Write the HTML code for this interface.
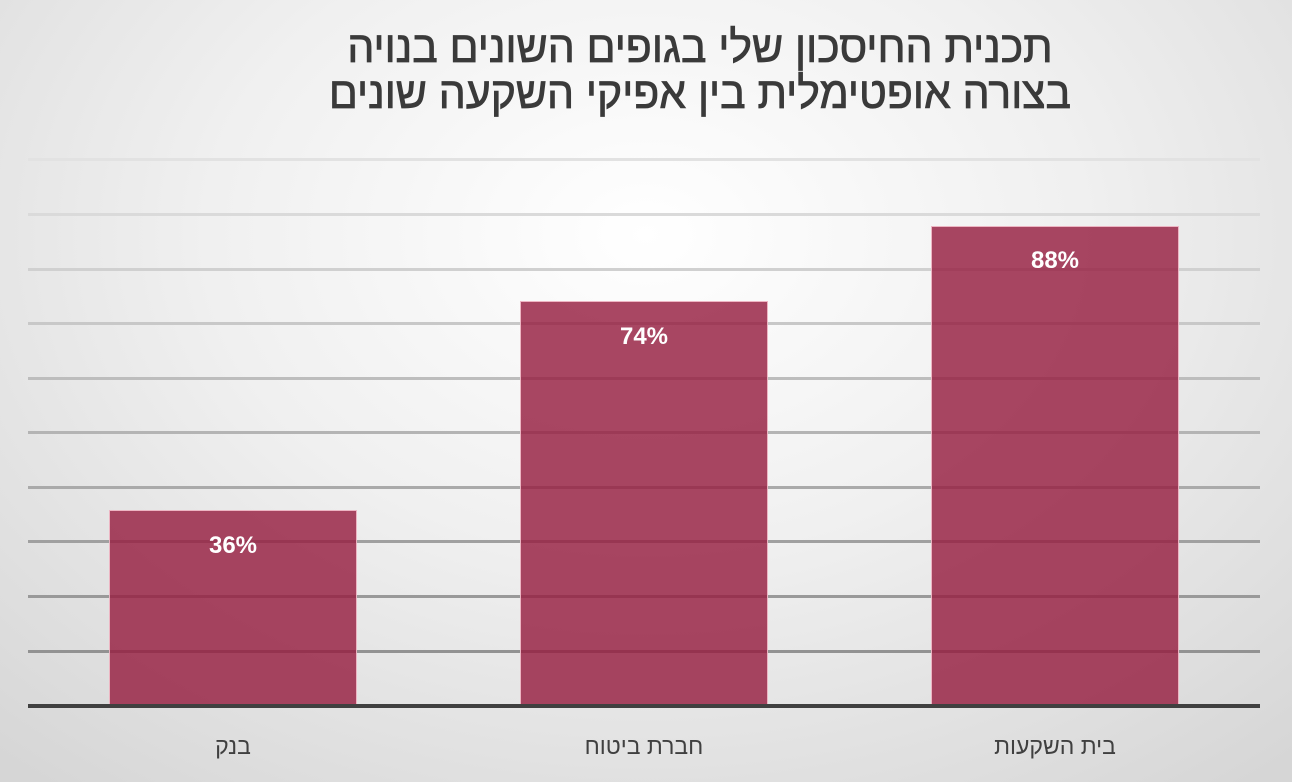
<!DOCTYPE html>
<html><head><meta charset="utf-8"><style>
html,body{margin:0;padding:0}
body{width:1292px;height:782px;overflow:hidden;position:relative;
background:radial-gradient(ellipse 75% 90% at 50% 30%,#ffffff 0%,#f0f0f0 45%,#d6d6d6 100%);
font-family:"Liberation Sans","DejaVu Sans",sans-serif}
.t{position:absolute;left:0;width:1400px;text-align:center;font-size:44px;line-height:46px;color:#3a3a3a;direction:rtl;transform:scaleX(0.97);transform-origin:700px 0;-webkit-text-stroke:0.8px #3a3a3a}
.g{position:absolute;left:28px;width:1232px;height:3px}
.bar{position:absolute;background:rgba(150,30,65,0.82);border:1px solid rgba(255,210,220,0.8);border-bottom:none;box-sizing:border-box}
.v{position:absolute;color:#fff;font-weight:bold;font-size:24px;text-align:center;width:248px}
.c{position:absolute;top:733px;font-size:23px;color:#404040;text-align:center;width:248px;direction:rtl}
</style></head><body>
<div class="t" style="top:25px">תכנית החיסכון שלי בגופים השונים בנויה</div>
<div class="t" style="top:71px">בצורה אופטימלית בין אפיקי השקעה שונים</div>
<div class="g" style="top:158px;background:#e2e2e2"></div>
<div class="g" style="top:213px;background:#dadada"></div>
<div class="g" style="top:268px;background:#d0d0d0"></div>
<div class="g" style="top:322px;background:#c8c8c8"></div>
<div class="g" style="top:377px;background:#bdbdbd"></div>
<div class="g" style="top:431px;background:#b4b4b4"></div>
<div class="g" style="top:486px;background:#aaaaaa"></div>
<div class="g" style="top:540px;background:#a0a0a0"></div>
<div class="g" style="top:595px;background:#999"></div>
<div class="g" style="top:650px;background:#929292"></div>
<div class="bar" style="left:109px;top:510px;width:248px;height:195px"></div>
<div class="bar" style="left:520px;top:301px;width:248px;height:404px"></div>
<div class="bar" style="left:931px;top:226px;width:248px;height:479px"></div>
<div class="g" style="top:704px;height:4px;background:#404040"></div>
<div class="v" style="left:109px;top:532px">36%</div>
<div class="v" style="left:520px;top:323px">74%</div>
<div class="v" style="left:931px;top:247px">88%</div>
<div class="c" style="left:109px">בנק</div>
<div class="c" style="left:520px">חברת ביטוח</div>
<div class="c" style="left:931px">בית השקעות</div>
</body></html>
